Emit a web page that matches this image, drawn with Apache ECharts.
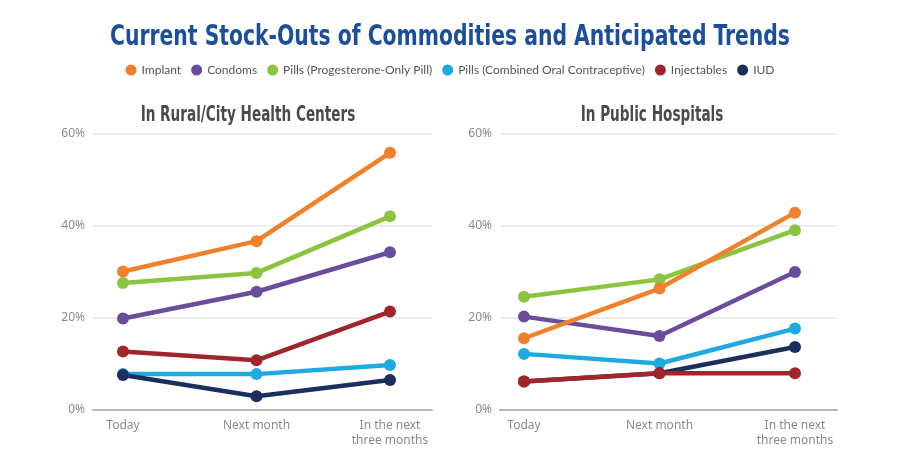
<!DOCTYPE html>
<html>
<head>
<meta charset="utf-8">
<script src="https://cdn.jsdelivr.net/npm/echarts@6/dist/echarts.min.js"></script>
<style>
  html, body { margin: 0; padding: 0; background: #fff; }
  #main { width: 900px; height: 466px; }
</style>
</head>
<body>
<div id="main"></div>
<script>
// categories and ticks
var periods = ['Today', 'Next month', 'In the next\nthree months'];
var yTicks = [0, 20, 40, 60];

// legend order as in the picture
var legendOrder = ['Implant', 'Condoms', 'Pills (Progesterone-Only Pill)', 'Pills (Combined Oral Contraceptive)', 'Injectables', 'IUD'];

// In Rural/City Health Centers (%)
var ruralImplant = [30.1, 36.7, 55.9];
var ruralCondoms = [19.9, 25.7, 34.3];
var ruralPop = [27.6, 29.8, 42.1];
var ruralCoc = [7.8, 7.8, 9.8];
var ruralInjectables = [12.7, 10.8, 21.4];
var ruralIud = [7.6, 3.0, 6.5];

// In Public Hospitals (%)
var hospImplant = [15.6, 26.4, 42.9];
var hospCondoms = [20.3, 16.1, 30.0];
var hospPop = [24.6, 28.4, 39.1];
var hospCoc = [12.2, 10.1, 17.7];
var hospInjectables = [6.2, 8.0, 8.0];
var hospIud = [6.2, 8.0, 13.7];

var colors = {
    'Implant': '#F0812A',
    'Condoms': '#6A4C9C',
    'Pills (Progesterone-Only Pill)': '#8CC43F',
    'Pills (Combined Oral Contraceptive)': '#1EA9E1',
    'Injectables': '#A1262C',
    'IUD': '#1C2E5C'
};

var condensed = "'DejaVu Sans Condensed', 'DejaVu Sans', sans-serif";
var axisGrey = '#8a8a8a';

function line(name, data, axisIdx) {
    return {
        name: name,
        type: 'line',
        data: data,
        xAxisIndex: axisIdx,
        yAxisIndex: axisIdx,
        symbol: 'circle',
        symbolSize: 12,
        lineStyle: { width: 4.5, color: colors[name] },
        itemStyle: { color: colors[name] },
        emphasis: { disabled: true },
        animation: false
    };
}

// drawing order: later ones on top
function panel(d, axisIdx) {
    return [
        line('Condoms', d.condoms, axisIdx),
        line('Pills (Progesterone-Only Pill)', d.pop, axisIdx),
        line('Implant', d.implant, axisIdx),
        line('Pills (Combined Oral Contraceptive)', d.coc, axisIdx),
        line('IUD', d.iud, axisIdx),
        line('Injectables', d.injectables, axisIdx)
    ];
}

// squeezed heading text (the original uses a condensed face)
function heading(text, x, y, size, color, squeeze) {
    return {
        type: 'text', x: x, y: y, scaleX: squeeze, silent: true,
        style: {
            text: text, fill: color, align: 'center', verticalAlign: 'middle',
            font: 'bold ' + size + 'px ' + condensed
        }
    };
}

var chart = echarts.init(document.getElementById('main'));

chart.setOption({
    backgroundColor: '#fff',
    graphic: [
        heading('Current Stock-Outs of Commodities and Anticipated Trends', 450, 37, 29, '#1B4E9B', 0.78),
        heading('In Rural/City Health Centers', 248, 116, 21, '#4a4a4a', 0.72),
        heading('In Public Hospitals', 652, 116, 21, '#4a4a4a', 0.72)
    ],
    legend: {
        data: legendOrder,
        top: 59, left: 'center',
        icon: 'circle',
        itemWidth: 11, itemHeight: 11, itemGap: 10,
        textStyle: { fontFamily: 'Lato', fontSize: 12, color: '#555' }
    },
    grid: [
        // background frames (gridlines and baseline)
        { left: 93, right: 468, top: 134, bottom: 56 },
        { left: 500, right: 63, top: 134, bottom: 56 },
        // plotting areas
        { left: 123, right: 510, top: 134, bottom: 56 },
        { left: 524, right: 105, top: 134, bottom: 56 }
    ],
    xAxis: [0, 1, 2, 3].map(function (i) {
        if (i < 2) {
            return {
                type: 'value', gridIndex: i, min: 0, max: 1,
                axisLine: { show: true, lineStyle: { color: '#b5b5b5', width: 2 } },
                axisTick: { show: false }, axisLabel: { show: false }, splitLine: { show: false }
            };
        }
        return {
            type: 'category', gridIndex: i, data: periods, boundaryGap: false,
            axisLine: { show: false }, axisTick: { show: false }, splitLine: { show: false },
            axisLabel: { color: axisGrey, fontFamily: 'Noto Sans', fontSize: 12, margin: 8, lineHeight: 15 }
        };
    }),
    yAxis: [0, 1, 2, 3].map(function (i) {
        if (i < 2) {
            return {
                type: 'value', gridIndex: i, min: yTicks[0], max: yTicks[yTicks.length - 1], interval: 20,
                axisLine: { show: false }, axisTick: { show: false },
                axisLabel: { color: axisGrey, fontFamily: 'Noto Sans', fontSize: 12, margin: 8, formatter: '{value}%' },
                splitLine: { lineStyle: { color: '#e6e6e6', width: 1.5 } }
            };
        }
        return {
            type: 'value', gridIndex: i, min: yTicks[0], max: yTicks[yTicks.length - 1],
            show: false
        };
    }),
    series: panel({
        implant: ruralImplant, condoms: ruralCondoms, pop: ruralPop,
        coc: ruralCoc, injectables: ruralInjectables, iud: ruralIud
    }, 2).concat(panel({
        implant: hospImplant, condoms: hospCondoms, pop: hospPop,
        coc: hospCoc, injectables: hospInjectables, iud: hospIud
    }, 3))
});
</script>
</body>
</html>
